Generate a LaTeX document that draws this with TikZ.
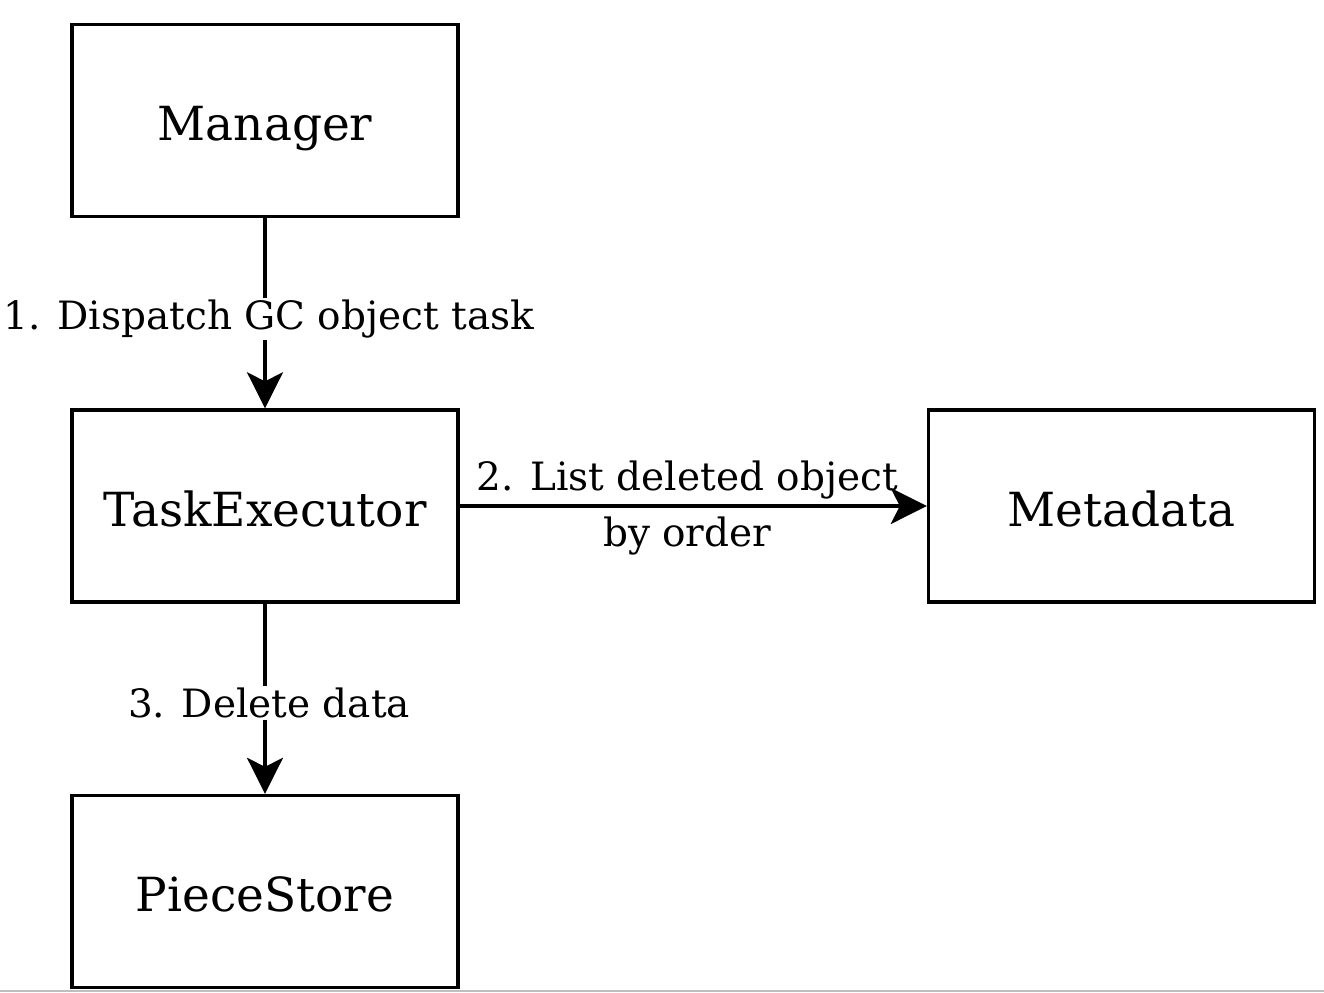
\documentclass[tikz,border=0pt]{standalone}
\usepackage{fontspec}
\setmainfont{DejaVu Serif}
\usetikzlibrary{arrows.meta}
\begin{document}
\begin{tikzpicture}[x=0.5pt,y=-0.5pt,
  box/.style={draw=black,line width=1.7pt,minimum width=193pt,minimum height=96pt,inner sep=0pt,font=\fontsize{23.5}{28}\selectfont,text depth=0pt},
  conn/.style={line width=1.7pt,-{Stealth[length=18pt,width=18pt,inset=4.5pt]}},
  lbl/.style={font=\fontsize{19.5}{28}\selectfont,inner sep=1pt,align=center}]
\useasboundingbox (0,0) rectangle (1324,992);
\draw[gray!50,line width=1pt] (0,991) -- (1324,991);
\node[box] (man) at (265,120.5) {\raisebox{-3pt}{Manager}};
\node[box] (te) at (265,506) {\raisebox{-3pt}{TaskExecutor}};
\node[box] (ps) at (265,891.5) {\raisebox{-3pt}{PieceStore}};
\node[box] (md) at (1121.5,506) {\raisebox{-3pt}{Metadata}};
\draw[conn] (man) -- (te) node[midway,lbl,fill=white,xshift=2pt,yshift=-3pt] {1. Dispatch GC object task};
\draw[conn] (te) -- (md) node[midway,lbl,xshift=-3pt,yshift=-1pt] {2. List deleted object\\by order};
\draw[conn] (te) -- (ps) node[midway,lbl,fill=white,xshift=2pt,yshift=-2pt] {3. Delete data};
\end{tikzpicture}
\end{document}
